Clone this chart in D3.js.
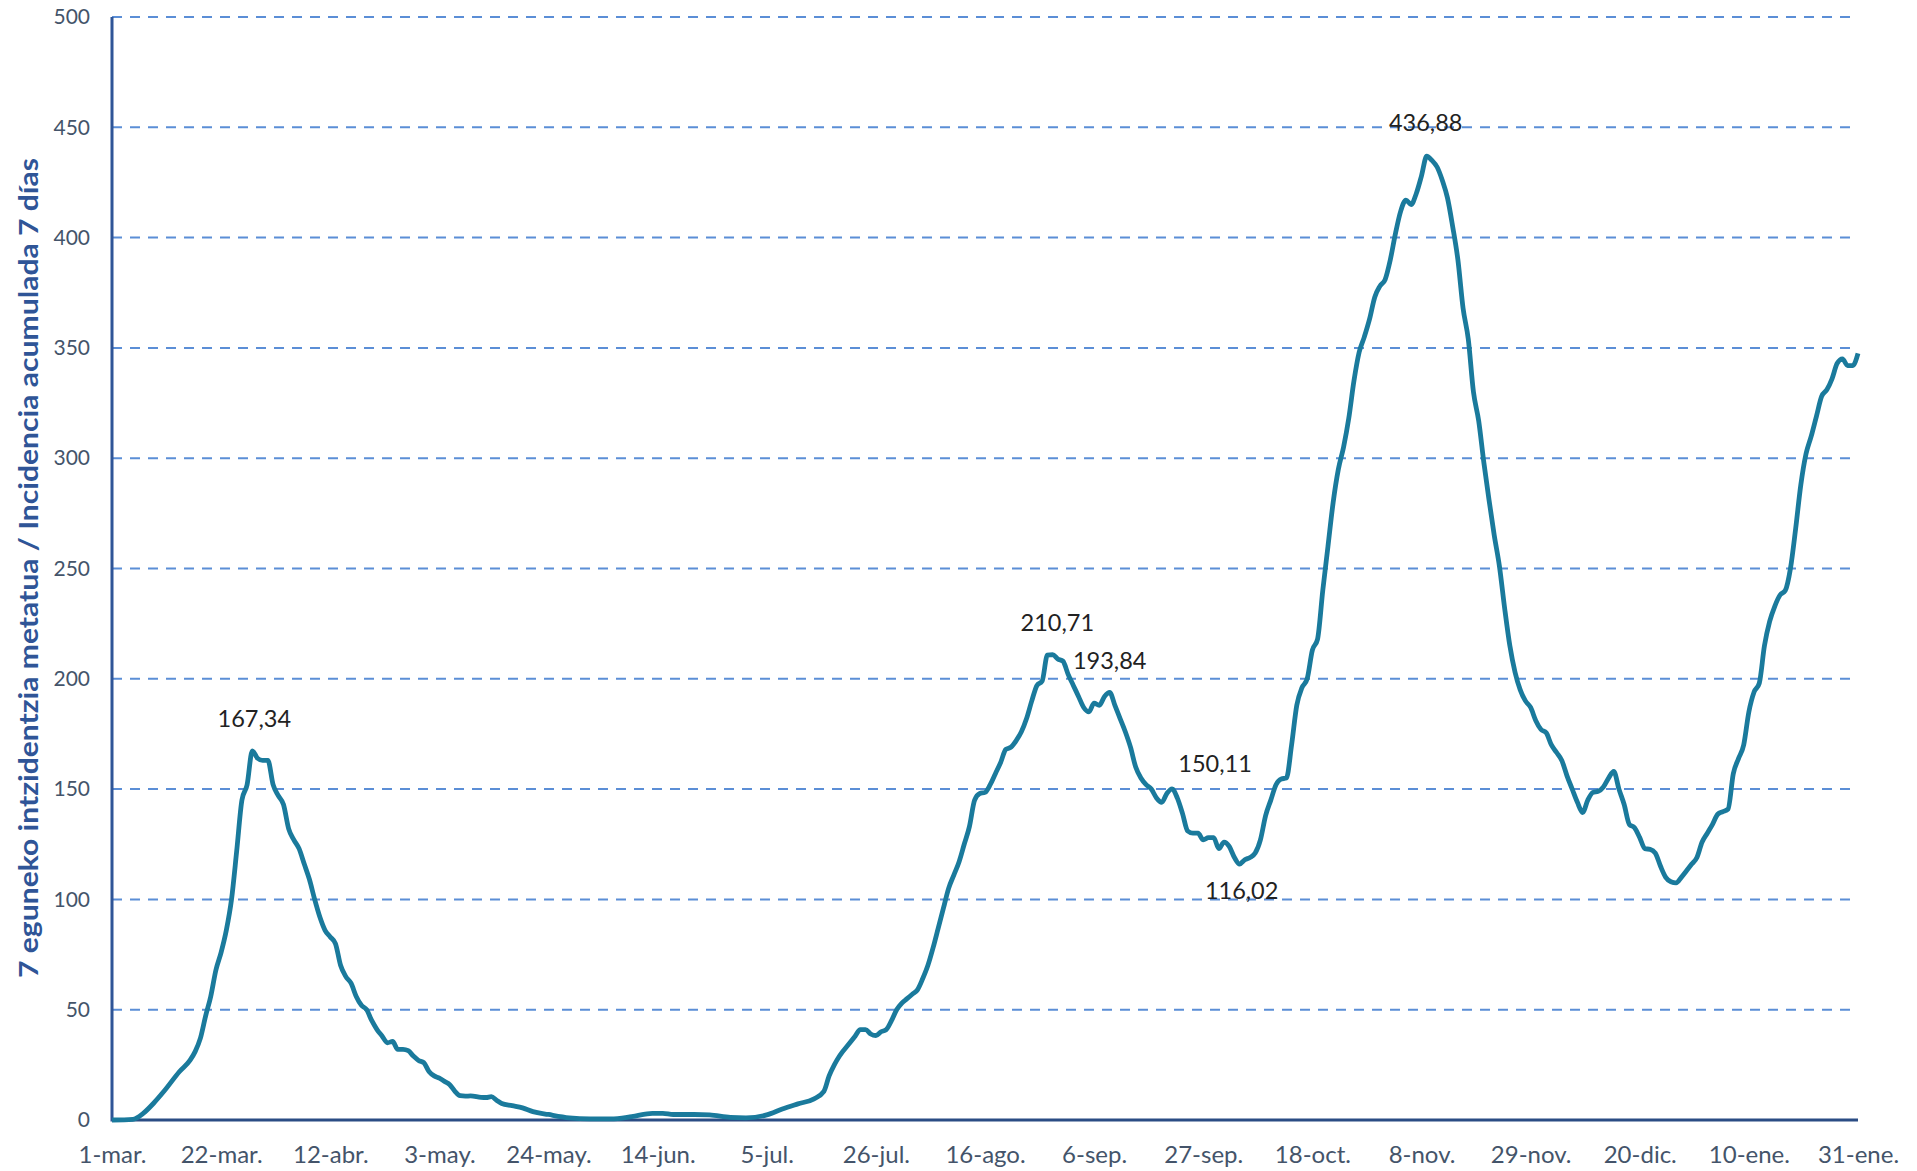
<!DOCTYPE html>
<html lang="es">
<head>
    <meta charset="utf-8">
    <title>Incidencia acumulada 7 días</title>
    <script type="text/javascript" src="https://d3js.org/d3.v7.min.js"></script>
    <style>
        body { margin: 0; background: #fff; }
        .tick text { font-family: Lato, "Open Sans", sans-serif; fill: #44546a; }
    </style>
</head>
<body>
    <div id="viz"></div>

    <script type="text/javascript">
        // days since 1-mar-2020 and the 7-day incidence
        const days = [0,4,6,8,10,13,15,16,17,18,19,20,21,22,23,24,25,26,27,28,29,30,31,32,33,34,35,36,37,38,39,40,
            41,42,43,44,45,46,47,48,49,50,51,52,53,54,55,56,57,58,59,60,61,62,63,64,65,66,67,68,69,71,72,73,74,75,77,79,81,84,88,92,96,
            100,104,106,108,112,115,119,122,126,129,132,135,137,138,139,140,142,143,144,145,146,147,148,149,150,151,152,153,154,155,
            156,157,158,159,160,161,162,163,164,165,166,167,168,169,170,171,172,173,174,175,176,177,178,179,180,181,182,183,184,185,
            186,187,188,189,190,191,192,193,194,195,196,197,198,199,200,201,202,203,204,205,206,207,208,209,210,211,212,213,214,215,
            216,217,218,219,220,221,222,223,224,225,226,227,228,229,230,231,232,233,234,235,236,237,238,239,240,241,242,243,244,245,
            246,247,248,249,250,251,252,253,254,255,256,257,258,259,260,261,262,263,264,265,266,267,268,269,270,271,272,273,274,275,
            276,277,278,279,280,281,282,283,284,285,286,287,288,289,290,291,292,293,294,295,296,297,298,299,300,301,302,303,304,305,
            306,307,308,309,310,311,312,313,314,315,316,317,318,319,320,321,322,323,324,325,326,327,328,329,330,331,332,333,334,335,336];
        const values = [0,0.3,3,7.6,13,22,27,31,37,47,56,68,76,86,100,122,145,152,167.34,164,163,163,152,147,143,132,127,123,116,109,100,92,
            86,83,80,70,65,62,56,52,50,45,41,38,35,35.6,32,32,31.4,29,27,26,22,20,19,17.5,16,13,11,10.8,10.9,10.3,10.2,10.6,9,7.5,6.5,5.5,3.8,2.5,1,0.5,0.5,
            1.5,3,3,2.5,2.5,2.3,1.2,1,2.3,5,7.3,9.5,13,20,25,29,35,38,41,41,39,38.3,40,41,45,50,53,55,57,59,
            64,70,78,87,96,105,111,117,125,133,145,148,148.5,152,157,162,168,169,172,176,182,190,197,199,210.71,211,209,208,202,197,
            192,187,185,189,188,192,193.84,188,182,176,169,160,155,152,150,146,144,148,150.11,146,139,131,130,130,127,128,128,123,126,124,
            119,116.02,118,119,121,127,138,145,152,154.6,155,170,188,196,200,213,218,240,260,280,295,305,318,335,348,355,363,373,378,381,
            390,402,412,417,415,420,428,436.88,435,432,426,418,405,390,368,354,330,317,298,281,265,251,232,215,203,195,190,187,181,177,
            175.5,170,166.6,163,156,150,144,139.4,145,148.5,149,151,155,158,150,143,134,132.5,128,123,122.7,121,115,110,108,107.5,110,113,116,119,
            126,130,134,138.6,139.8,141,157,163.8,170,185,194,198,215,226,233,238,240,250,268,288,302,310,319,328,331,336,343,345,342,342,347.5];

        const tickDays = [0,21,42,63,84,105,126,147,168,189,210,231,252,273,294,315,336];
        const tickLabels = ["1-mar.","22-mar.","12-abr.","3-may.","24-may.","14-jun.","5-jul.","26-jul.","16-ago.",
            "6-sep.","27-sep.","18-oct.","8-nov.","29-nov.","20-dic.","10-ene.","31-ene."];
        const yTicks = [0,50,100,150,200,250,300,350,400,450,500];

        // points that carry a data label
        const labelDays = [27,180,192,204,217,253];
        const labelOffsets = [[2,-33],[10,-33],[0,-32],[43,-26],[2,26],[-1,-34]];

        const width = 1917;
        const height = 1171;
        const margin = {top: 17, right: 59, bottom: 51, left: 112};

        const svg = d3.select("#viz")
            .append("svg")
            .attr("width", width)
            .attr("height", height);

        const xScale = d3.scaleLinear()
            .domain([0, 336])
            .range([margin.left, width - margin.right]);
        const yScale = d3.scaleLinear()
            .domain([0, 500])
            .range([height - margin.bottom, margin.top]);

        // dashed gridlines
        svg.append("g")
            .selectAll("line")
            .data(yTicks.filter(d => d > 0))
            .enter()
            .append("line")
                .attr("x1", margin.left)
                .attr("x2", width - margin.right)
                .attr("y1", d => yScale(d))
                .attr("y2", d => yScale(d))
                .attr("stroke", "#5b8ed6")
                .attr("stroke-width", 2)
                .attr("stroke-dasharray", "10,8");

        const yAxis = d3.axisLeft(yScale)
            .tickValues(yTicks)
            .tickSize(0)
            .tickPadding(22);
        svg.append("g")
            .attr("transform", `translate(${margin.left},0)`)
            .call(yAxis)
            .call(g => g.select(".domain").remove())
            .selectAll("text")
                .attr("font-size", 21);

        const xAxis = d3.axisBottom(xScale)
            .tickValues(tickDays)
            .tickFormat((d, i) => tickLabels[i])
            .tickSize(0)
            .tickPadding(26);
        svg.append("g")
            .attr("transform", `translate(0,${height - margin.bottom})`)
            .call(xAxis)
            .call(g => g.select(".domain").remove())
            .selectAll("text")
                .attr("font-size", 24);

        // axis lines
        svg.append("line")
            .attr("x1", margin.left).attr("x2", margin.left)
            .attr("y1", margin.top).attr("y2", height - margin.bottom + 1.5)
            .attr("stroke", "#2f5597").attr("stroke-width", 3);
        svg.append("line")
            .attr("x1", margin.left).attr("x2", width - margin.right)
            .attr("y1", height - margin.bottom).attr("y2", height - margin.bottom)
            .attr("stroke", "#2b4c84").attr("stroke-width", 3);

        const data = days.map((d, i) => ({day: d, value: values[i]}));

        const line = d3.line()
            .x(d => xScale(d.day))
            .y(d => yScale(d.value))
            .curve(d3.curveMonotoneX);

        svg.append("path")
            .datum(data)
            .attr("fill", "none")
            .attr("stroke", "#1a7a9c")
            .attr("stroke-width", 4.8)
            .attr("stroke-linejoin", "round")
            .attr("d", line);

        // data labels
        svg.append("g")
            .selectAll("text")
            .data(labelDays)
            .enter()
            .append("text")
                .attr("x", (d, i) => xScale(d) + labelOffsets[i][0])
                .attr("y", (d, i) => yScale(values[days.indexOf(d)]) + labelOffsets[i][1])
                .attr("text-anchor", "middle")
                .attr("dominant-baseline", "central")
                .attr("font-family", "Lato, 'Open Sans', sans-serif")
                .attr("font-size", 23.5)
                .attr("fill", "#222")
                .text(d => values[days.indexOf(d)].toFixed(2).replace(".", ","));

        // y axis title
        svg.append("text")
            .attr("transform", "translate(28,568) rotate(-90)")
            .attr("text-anchor", "middle")
            .attr("dominant-baseline", "central")
            .attr("font-family", "Lato, 'Open Sans', sans-serif")
            .attr("font-weight", "bold")
            .attr("font-size", 26)
            .attr("fill", "#2f5597")
            .attr("textLength", 820)
            .attr("lengthAdjust", "spacingAndGlyphs")
            .text("7 eguneko intzidentzia metatua / Incidencia acumulada 7 días");
    </script>
</body>
</html>
